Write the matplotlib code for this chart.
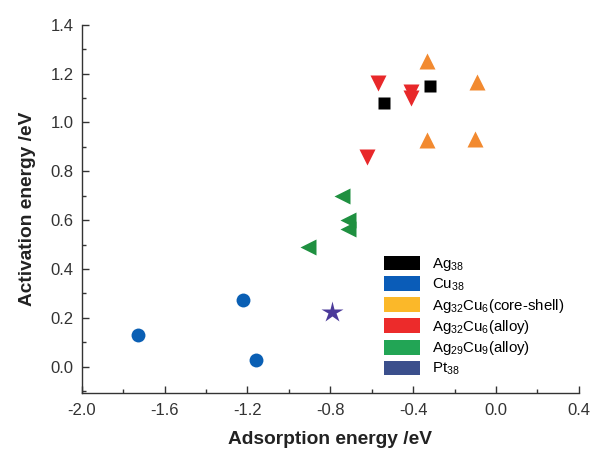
import matplotlib
matplotlib.use("Agg")
import matplotlib.pyplot as plt
from matplotlib.patches import Patch
from matplotlib.ticker import MultipleLocator

plt.rcParams["font.family"] = ["Liberation Sans", "DejaVu Sans"]
plt.rcParams["mathtext.default"] = "regular"

# adsorption energy (x) / activation energy (y)
ag38_x = [-0.54, -0.32]
ag38_y = [1.08, 1.15]
cu38_x = [-1.73, -1.22, -1.16]
cu38_y = [0.128, 0.272, 0.026]
coreshell_x = [-0.335, -0.09, -0.335, -0.10]
coreshell_y = [1.25, 1.166, 0.927, 0.933]
alloy6_x = [-0.572, -0.411, -0.411, -0.622]
alloy6_y = [1.16, 1.125, 1.10, 0.858]
alloy9_x = [-0.745, -0.713, -0.713, -0.907]
alloy9_y = [0.698, 0.60, 0.562, 0.491]
pt38_x = [-0.794]
pt38_y = [0.222]

legend_labels = ["Ag$_{38}$", "Cu$_{38}$", "Ag$_{32}$Cu$_{6}$(core-shell)",
                 "Ag$_{32}$Cu$_{6}$(alloy)", "Ag$_{29}$Cu$_{9}$(alloy)", "Pt$_{38}$"]
legend_colors = ["#000000", "#0a5cb8", "#fbb829", "#ec2b2b", "#22a555", "#3b4f8c"]

fig = plt.figure(figsize=(5.93, 4.51), dpi=100)
ax = fig.add_axes([0.138, 0.129, 0.838, 0.816])

ax.plot(ag38_x, ag38_y, "s", color="black", ms=9, mec="none")
ax.plot(cu38_x, cu38_y, "o", color="#0a5fb4", ms=10, mec="none")
ax.plot(coreshell_x, coreshell_y, "^", color="#f28a30", ms=11, mec="none")
ax.plot(alloy6_x, alloy6_y, "v", color="#e8282a", ms=11, mec="none")
ax.plot(alloy9_x, alloy9_y, "<", color="#1f9040", ms=11, mec="none")
ax.plot(pt38_x, pt38_y, "*", color="#4b3a9a", ms=16, mec="none")

ax.set_xlim(-2.0, 0.4)
ax.set_ylim(-0.107, 1.4)
ax.xaxis.set_major_locator(MultipleLocator(0.4))
ax.xaxis.set_minor_locator(MultipleLocator(0.2))
ax.yaxis.set_major_locator(MultipleLocator(0.2))
ax.yaxis.set_minor_locator(MultipleLocator(0.1))
ax.xaxis.set_major_formatter(lambda v, p: f"{v:.1f}".replace("-0.0", "0.0"))
ax.yaxis.set_major_formatter(lambda v, p: f"{v:.1f}")
ax.tick_params(which="both", direction="in", labelsize=12, color="#333333",
               labelcolor="#333333")
ax.tick_params(which="major", length=5, width=1)
ax.tick_params(axis="x", which="major", pad=7)
ax.tick_params(axis="y", which="major", pad=6)
ax.tick_params(which="minor", length=3, width=1)
ax.spines["top"].set_visible(False)
ax.spines["right"].set_visible(False)
for s in ["left", "bottom"]:
    ax.spines[s].set_color("#333333")
    ax.spines[s].set_linewidth(1)

ax.set_xlabel("Adsorption energy /eV", fontsize=13.8, fontweight="bold", labelpad=10,
              color="#222222")
ax.set_ylabel("Activation energy /eV", fontsize=13.8, fontweight="bold", labelpad=10,
              color="#222222")

handles = [Patch(facecolor=c, edgecolor="none") for c in legend_colors]
ax.legend(handles, legend_labels, frameon=False, fontsize=10.8,
          loc="lower left", bbox_to_anchor=(0.58, 0.005),
          handlelength=2.45, handleheight=1.15, labelspacing=0.22, handletextpad=0.75)

fig.savefig("out.png", dpi=100)
